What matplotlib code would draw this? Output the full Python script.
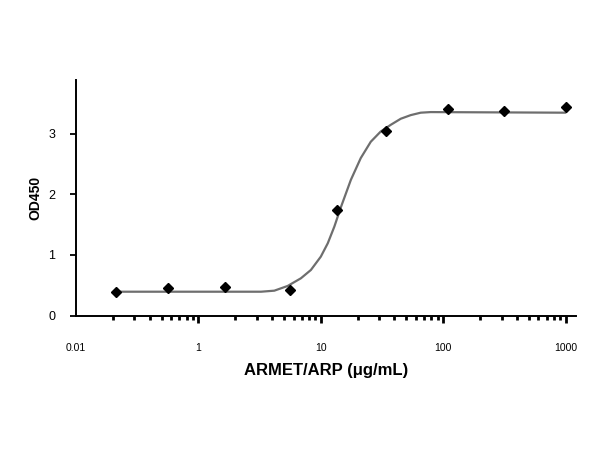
import matplotlib
matplotlib.use("Agg")
import matplotlib.pyplot as plt
from matplotlib.ticker import FixedLocator, NullFormatter

plt.rcParams['font.family'] = ['Liberation Sans', 'DejaVu Sans']

# measured points
conc = [0.213, 0.563, 1.65, 5.56, 13.5, 34.0, 109, 313, 1000]
od = [0.38, 0.45, 0.466, 0.42, 1.74, 3.05, 3.41, 3.38, 3.44]

# fitted curve
curve_x = [0.213, 1.85, 3.25, 4.17, 5.36, 6.88, 8.30, 10.0, 11.4, 12.9, 14.6,
           17.6, 21.2, 25.6, 30.9, 37.3, 45.0, 54.3, 65.5, 79.1, 1000]
curve_y = [0.393, 0.393, 0.393, 0.41, 0.488, 0.615, 0.752, 0.972, 1.193, 1.468, 1.79,
           2.24, 2.60, 2.87, 3.04, 3.15, 3.25, 3.31, 3.35, 3.36, 3.35]

xticks = [0.1, 1, 10, 100, 1000]
xticklabels = ['0.01', '1', '10', '100', '1000']
yticks = [0, 1, 2, 3]
yticklabels = ['0', '1', '2', '3']

fig = plt.figure(figsize=(6, 4.5), dpi=100)
ax = fig.add_axes([76/600, 1 - 315.5/450, 500/600, 235.5/450])

ax.plot(curve_x, curve_y, color='#6e6e6e', lw=1.6, solid_capstyle='round',
        solid_joinstyle='round', zorder=2)
ax.plot(conc, od, linestyle='none', marker='D', markersize=5.3, color='black', zorder=3)

ax.set_xscale('log')
ax.set_xlim(0.1, 1216)
ax.set_ylim(0, 3.89)

ax.set_xticks(xticks)
ax.set_xticklabels(xticklabels, fontsize=7.5)
minors = [m * 10.0**e for e in range(-1, 3) for m in range(2, 10)]
ax.xaxis.set_minor_locator(FixedLocator(minors))
ax.xaxis.set_minor_formatter(NullFormatter())
ax.tick_params(axis='x', which='major', direction='out', length=5, width=2, pad=15, colors='black')
ax.tick_params(axis='x', which='minor', direction='out', length=3, width=2, colors='black')
ax.xaxis.get_major_ticks()[0].tick1line.set_visible(False)

ax.set_yticks(yticks)
ax.set_yticklabels(yticklabels, fontsize=9)
ax.tick_params(axis='y', which='major', direction='out', length=4, width=1.3, pad=11)

for s in ['top', 'right']:
    ax.spines[s].set_visible(False)
for s in ['left', 'bottom']:
    ax.spines[s].set_linewidth(1.4)

ax.set_xlabel('ARMET/ARP (μg/mL)', fontsize=12, fontweight='bold', labelpad=7)
ax.set_ylabel('OD450', fontsize=10, fontweight='bold', labelpad=4)

fig.savefig('out.png', dpi=100)
